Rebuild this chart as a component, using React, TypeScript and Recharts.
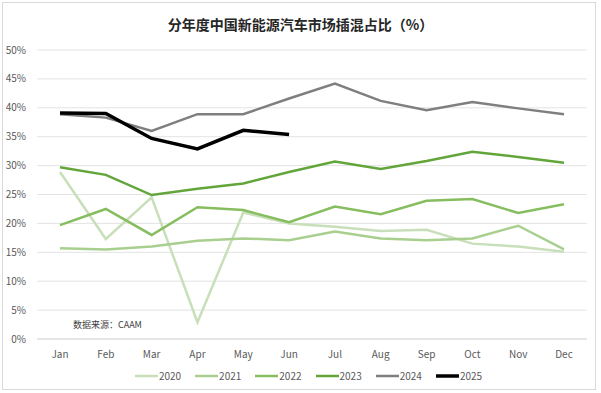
import React from "react";
import { LineChart, Line, XAxis, YAxis, CartesianGrid, Legend } from "recharts";

const months = ["Jan", "Feb", "Mar", "Apr", "May", "Jun", "Jul", "Aug", "Sep", "Oct", "Nov", "Dec"];
const s2020 = [28.9, 17.3, 24.5, 2.9, 21.9, 20.0, 19.4, 18.7, 18.9, 16.5, 16.0, 15.1];
const s2021 = [15.7, 15.5, 16.0, 17.0, 17.4, 17.1, 18.6, 17.4, 17.1, 17.4, 19.6, 15.5];
const s2022 = [19.7, 22.5, 18.0, 22.8, 22.3, 20.2, 22.9, 21.6, 23.9, 24.2, 21.8, 23.3];
const s2023 = [29.7, 28.4, 24.9, 26.0, 26.9, 28.9, 30.7, 29.4, 30.8, 32.4, 31.5, 30.5];
const s2024 = [38.9, 38.3, 36.0, 38.9, 38.9, 41.6, 44.2, 41.2, 39.6, 41.0, 39.9, 38.9];
const s2025 = [39.1, 39.0, 34.7, 32.9, 36.1, 35.4];
const yTicks = [0, 5, 10, 15, 20, 25, 30, 35, 40, 45, 50];

const seriesNames = ["2020", "2021", "2022", "2023", "2024", "2025"];
const seriesColors = ["#c8dfba", "#a9cf8f", "#86bd5f", "#62a53a", "#7f7f7f", "#000000"];
const seriesWidths = [2.5, 2.5, 2.5, 2.5, 2.5, 3.5];
const allSeries = [s2020, s2021, s2022, s2023, s2024, s2025];

const data = months.map((m, i) => {
  const row: Record<string, string | number | null> = { month: m };
  seriesNames.forEach((n, k) => {
    const v = allSeries[k][i];
    row[n] = v === undefined ? null : v;
  });
  return row;
});

const font = "'Noto Sans CJK SC', 'Noto Sans', sans-serif";

const LegendContent = () => (
  <div style={{ display: "flex", justifyContent: "center", fontFamily: font, fontSize: 10, color: "#595959" }}>
    {seriesNames.map((n, k) => (
      <div key={n} style={{ display: "flex", alignItems: "center", marginRight: k < seriesNames.length - 1 ? 14 : 0 }}>
        <svg width={23} height={8} style={{ display: "block" }}>
          <line x1={0} y1={4} x2={23} y2={4} stroke={seriesColors[k]} strokeWidth={seriesWidths[k]} />
        </svg>
        <span style={{ marginLeft: 1 }}>{n}</span>
      </div>
    ))}
  </div>
);

export default function App() {
  return (
    <div style={{ position: "absolute", left: 0, top: 0, width: 601, height: 393, background: "#fff", fontFamily: font }}>
      <div
        style={{
          position: "absolute",
          left: 2,
          top: 2,
          width: 594,
          height: 388,
          border: "1px solid #d9d9d9",
          boxSizing: "border-box",
        }}
      />
      <div
        style={{
          position: "absolute",
          left: 0,
          top: 14,
          width: 601,
          textAlign: "center",
          fontSize: 14,
          fontWeight: 700,
          color: "#262626",
          lineHeight: "20px",
        }}
      >
        分年度中国新能源汽车市场插混占比（%）
      </div>
      <div
        style={{
          position: "absolute",
          left: 73,
          top: 318,
          fontSize: 9,
          color: "#404040",
          lineHeight: "14px",
          zIndex: 2,
        }}
      >
        数据来源：CAAM
      </div>
      <LineChart
        width={601}
        height={393}
        data={data}
        margin={{ top: 50, right: 14, bottom: 29, left: 0 }}
      >
        <CartesianGrid vertical={false} stroke="#e3e3e3" strokeWidth={1} />
        <XAxis
          dataKey="month"
          axisLine={{ stroke: "#d9d9d9" }}
          tickLine={false}
          tick={{ fill: "#595959", fontSize: 10, fontFamily: font }}
          tickMargin={6}
          height={25}
          padding={{ left: 23, right: 23 }}
        />
        <YAxis
          domain={[0, 50]}
          ticks={yTicks}
          width={37}
          axisLine={false}
          tickLine={false}
          tickFormatter={(v: number) => `${v}%`}
          tick={{ fill: "#595959", fontSize: 10, fontFamily: font }}
          tickMargin={5}
        />
        <Legend
          verticalAlign="middle"
          layout="horizontal"
          wrapperStyle={{ top: 368, left: 8, width: 601 }}
          content={<LegendContent />}
        />
        {seriesNames.map((n, k) => (
          <Line
            key={n}
            type="linear"
            dataKey={n}
            stroke={seriesColors[k]}
            strokeWidth={seriesWidths[k]}
            dot={false}
            activeDot={false}
            isAnimationActive={false}
            connectNulls={false}
          />
        ))}
      </LineChart>
    </div>
  );
}
